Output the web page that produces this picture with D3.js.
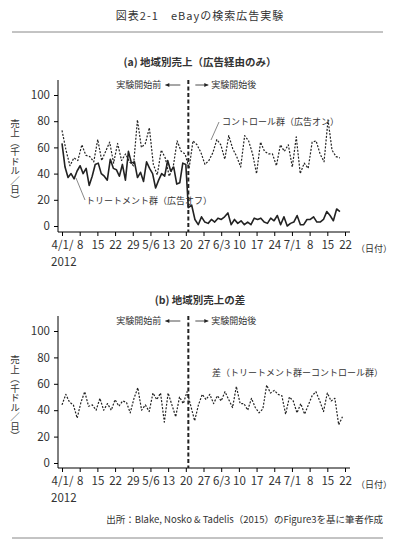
<!DOCTYPE html>
<html><head><meta charset="utf-8">
<script src="https://cdn.jsdelivr.net/npm/d3@7.9.0/dist/d3.min.js"></script>
<style>
body{margin:0;background:#fff;}
text{font-family:"Noto Sans CJK JP","Noto Sans",sans-serif;fill:#333;}
</style></head>
<body><svg id="c" width="400" height="550"></svg>
<script>
// tick labels (days since 4/1/2012)
const tickDays = [0,7,14,21,28,35,42,49,56,63,70,77,84,91,98,105,112];
const tickLabels = ["4/1/","8","15","22","29","5/6","13","20","27","6/3","10","17","24","7/1","8","15","22"];

// panel (a) control group, ads on (read over day 0..110)
const control = [73,58,46,52,50,62,54,53,49,66,50,57,64,48,63,50,55,49,46,81,60,63,75,47,39,58,52,38,45,65,57,55,44,65,
  62,56,47,50,56,66,62,51,69,59,53,45,69,65,55,40,64,57,55,55,46,62,57,62,45,68,40,48,44,64,65,55,49,81,58,53,52];
// treatment group, ads off: before (day 0..49) and after (day 50..110)
const treatPre = [63,45,37,40,36,42,46,40,44,31,38,47,48,40,38,35,51,44,43,38,47,35,57,48,49,37,41,34,49,44,40,29,35,40,38,50,42,45,32,33,48,47];
const treatPost = [14,16,5,1,7,3,2,5,3,6,5,7,10,1,5,2,4,1,3,1,6,5,6,3,2,6,4,8,1,7,0,2,3,8,1,1,5,5,7,3,3,5,11,8,4,13,11];
// panel (b) difference
const diff = [44,52,46,44,34,46,54,43,44,40,49,40,45,40,48,43,47,46,38,49,57,40,44,39,53,48,53,31,53,44,35,50,45,54,43,32,
  44,52,48,52,45,51,47,54,48,42,58,45,45,40,49,42,38,41,59,53,55,52,51,37,50,47,38,45,37,44,51,54,47,39,53,47,49,29,35];

const svg = d3.select("#c");
const x = d3.scaleLinear().domain([0,112]).range([62,345]);
const spread = (arr, d0, d1) => arr.map((v,i) => [d0 + i*(d1-d0)/(arr.length-1), v]);

svg.append("text").attr("x",200).attr("y",20).attr("text-anchor","middle").attr("font-size",11).attr("letter-spacing",1).text("図表2-1　eBayの検索広告実験");
svg.append("line").attr("x1",12).attr("x2",383).attr("y1",32).attr("y2",32).attr("stroke","#888");
svg.append("text").attr("x",383).attr("y",523).attr("text-anchor","end").attr("font-size",9.5).text("出所：Blake, Nosko & Tadelis（2015）のFigure3を基に筆者作成");
svg.append("line").attr("x1",12).attr("x2",383).attr("y1",538).attr("y2",538).attr("stroke","#888");

function panel(title, titleY, y0, y100, axisY, series){
  const y = d3.scaleLinear().domain([0,100]).range([y0,y100]);
  const g = svg.append("g");
  g.append("text").attr("x",200).attr("y",titleY).attr("text-anchor","middle").attr("font-size",10.5).attr("font-weight","bold").text(title);
  // axes
  g.append("g").attr("transform",`translate(58,0)`)
    .call(d3.axisLeft(y).tickValues([0,20,40,60,80,100]).tickSize(4).tickPadding(4))
    .call(a=>{a.select(".domain").attr("d",`M0,${y100-15}V${axisY}`);a.selectAll("text").attr("font-size",11.5).attr("font-family","Lato,sans-serif");});
  g.append("g").attr("transform",`translate(0,${axisY})`)
    .call(d3.axisBottom(x).tickValues(tickDays).tickFormat((d,i)=>tickLabels[i]).tickSize(4).tickPadding(5))
    .call(a=>{a.select(".domain").attr("d",`M58,0H350`);a.selectAll("text").attr("font-size",11.5).attr("font-family","Lato,sans-serif");});
  g.append("text").attr("x",51).attr("y",axisY+34).attr("font-size",11.5).attr("font-family","Lato,sans-serif").text("2012");
  g.append("text").attr("x",356).attr("y",axisY+20).attr("font-size",9).text("（日付）");
  g.append("text").attr("x",15).attr("y",y(82)).attr("font-size",9.5)
    .style("writing-mode","vertical-rl").text("売上（千ドル／日）");
  // experiment start
  const xs = x(50);
  g.append("line").attr("x1",xs).attr("x2",xs).attr("y1",y100-15).attr("y2",axisY).attr("stroke","#222").attr("stroke-width",2).attr("stroke-dasharray","4,2.5");
  const ty = y100-10;
  g.append("text").attr("x",xs-27).attr("y",ty+3).attr("text-anchor","end").attr("font-size",9).text("実験開始前");
  g.append("text").attr("x",xs+23).attr("y",ty+3).attr("font-size",9).text("実験開始後");
  [[xs-8,xs-23],[xs+7,xs+20]].forEach(([a,b])=>{
    g.append("line").attr("x1",a).attr("x2",b).attr("y1",ty).attr("y2",ty).attr("stroke","#222").attr("stroke-width",0.8);
    const dir = Math.sign(b-a);
    g.append("path").attr("d",`M${b},${ty}l${-dir*4},-2v4z`).attr("fill","#222");
  });
  const line = d3.line().x(d=>x(d[0])).y(d=>y(d[1]));
  series.forEach(s=>g.append("path").attr("d",line(s.pts)).attr("fill","none").attr("stroke","#222")
    .attr("stroke-width",s.w).attr("stroke-dasharray",s.dash||null).attr("stroke-linejoin","round"));
  return {g,y};
}

const treatPts = spread(treatPre,0,49).concat(spread(treatPost,50,110));
const a = panel("(a) 地域別売上（広告経由のみ）",66,226,95,232,[
  {pts:spread(control,0,110),w:1.2,dash:"2,1.5"},
  {pts:treatPts,w:1.6}
]);
a.g.append("text").attr("x",222).attr("y",125).attr("font-size",9).text("コントロール群（広告オン）");
a.g.append("line").attr("x1",219).attr("y1",122).attr("x2",211).attr("y2",140).attr("stroke","#555").attr("stroke-width",0.7);
a.g.append("text").attr("x",86).attr("y",204).attr("font-size",9).text("トリートメント群（広告オフ）");
a.g.append("line").attr("x1",85).attr("y1",200).attr("x2",76).attr("y2",178).attr("stroke","#555").attr("stroke-width",0.7);

const b = panel("(b) 地域別売上の差",304,463,331,468,[
  {pts:spread(diff,0,111),w:1.2,dash:"2,1.5"}
]);
b.g.append("text").attr("x",212).attr("y",376).attr("font-size",9).text("差（トリートメント群ーコントロール群）");
</script></body></html>
